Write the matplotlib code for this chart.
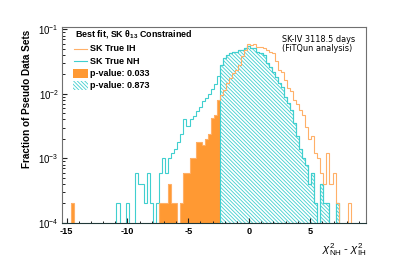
import numpy as np
import matplotlib
matplotlib.use("Agg")
import matplotlib.pyplot as plt
from matplotlib.patches import Rectangle
from matplotlib.lines import Line2D
from matplotlib.ticker import MultipleLocator, LogLocator, NullFormatter

plt.rcParams['font.family'] = ['Liberation Sans', 'DejaVu Sans']
plt.rcParams['mathtext.fontset'] = 'custom'
plt.rcParams['mathtext.rm'] = 'Liberation Sans'
plt.rcParams['mathtext.it'] = 'Liberation Sans:italic'
plt.rcParams['mathtext.bf'] = 'Liberation Sans:bold'
plt.rcParams['hatch.linewidth'] = 0.6

# ---- data (bin edges: -15.4 .. 9.6, width 0.25, 100 bins) ----
x_min, x_max, n_bins = -15.4, 9.6, 100
data_value = -2.4   # observed chi2_NH - chi2_IH

# Fraction of pseudo data sets, true NH (index = bin number)
nh_sparse = {
    18: 2e-4, 21: 2e-4, 24: 6e-4, 25: 4e-4, 26: 4e-4, 27: 2e-4, 28: 6e-4,
    29: 2e-4, 31: 2e-4, 32: 6e-4, 33: 1e-3, 34: 6e-4, 35: 1e-3, 36: 1.2e-3,
    37: 1.4e-3, 38: 1.8e-3, 39: 2.4e-3, 40: 4e-3, 41: 3.2e-3, 42: 4e-3,
    43: 4.6e-3, 44: 5.4e-3, 45: 6.2e-3, 46: 7.6e-3, 47: 8.6e-3, 48: 1.0e-2,
    49: 1.2e-2, 50: 1.4e-2, 51: 1.9e-2, 52: 2.8e-2, 53: 3.57e-2, 54: 4.0e-2,
    55: 4.27e-2, 56: 4.52e-2, 57: 4.52e-2, 58: 4.81e-2, 59: 4.81e-2,
    60: 5.11e-2, 61: 5.54e-2, 62: 5.11e-2, 63: 5.11e-2, 64: 4.52e-2,
    65: 4.27e-2, 66: 4.02e-2, 67: 3.0e-2, 68: 2.64e-2, 69: 2.2e-2,
    70: 1.85e-2, 71: 1.46e-2, 72: 1.28e-2, 73: 9.0e-3, 74: 7.2e-3,
    75: 5.6e-3, 76: 3.5e-3, 77: 2.2e-3, 78: 1.4e-3, 79: 1.0e-3, 80: 8e-4,
    81: 4e-4, 82: 6e-4, 83: 2e-4, 85: 4e-4, 86: 2e-4, 87: 2e-4, 90: 2e-4,
}
# Fraction of pseudo data sets, true IH
ih_sparse = {
    3: 2e-4, 32: 2e-4, 33: 2e-4, 34: 2e-4, 35: 4e-4, 36: 2e-4, 37: 2e-4,
    39: 2e-4, 40: 6e-4, 41: 6e-4, 42: 1e-3, 43: 1e-3, 44: 1.8e-3, 45: 1.8e-3,
    46: 1.6e-3, 47: 2e-3, 48: 2.4e-3, 49: 4.2e-3, 50: 4.7e-3, 51: 8e-3,
    52: 9.6e-3, 53: 1.15e-2, 54: 1.46e-2, 55: 1.75e-2, 56: 2.1e-2,
    57: 2.35e-2, 58: 2.8e-2, 59: 3.8e-2, 60: 4.8e-2, 61: 5.9e-2, 62: 5.7e-2,
    63: 5.9e-2, 64: 5.4e-2, 65: 5.4e-2, 66: 5.1e-2, 67: 4.8e-2, 68: 4.5e-2,
    69: 4.3e-2, 70: 3.2e-2, 71: 2.35e-2, 72: 2.2e-2, 73: 1.65e-2,
    74: 1.24e-2, 75: 1.1e-2, 76: 8e-3, 77: 7e-3, 78: 5.6e-3, 79: 4.7e-3,
    80: 3.1e-3, 81: 2e-3, 82: 2.2e-3, 83: 1.2e-3, 84: 1e-3, 85: 6e-4,
    86: 4e-4, 87: 1.2e-3, 88: 4e-4, 89: 6e-4, 90: 2e-4, 94: 2e-4,
}
x_ticks = [-15, -10, -5, 0, 5]
legend_title = r"Best fit, SK $\mathbf{\theta_{13}}$ Constrained"
labels = ["SK True IH", "SK True NH", "p-value: 0.033", "p-value: 0.873"]

edges = np.linspace(x_min, x_max, n_bins + 1)
nh = np.zeros(n_bins)
ih = np.zeros(n_bins)
for k, v in nh_sparse.items():
    nh[k] = v
for k, v in ih_sparse.items():
    ih[k] = v

floor = 1e-6
cut = int(round((data_value - x_min) / (edges[1] - edges[0])))

c_ih_line = '#ffb068'
c_ih_fill = '#ff9933'
c_nh = '#40cfcf'
hatch = '\\' * 9

W, H = 407, 263
fig = plt.figure(figsize=(W / 100, H / 100), dpi=100)
L, R, T, B = 61.7, 366.0, 26.7, 222.7
ax = fig.add_axes([L / W, 1 - B / H, (R - L) / W, (B - T) / H])
ax.set_yscale('log')
ax.set_xlim(x_min, x_max)
ax.set_ylim(1e-4, 0.11)

# filled p-value regions
ax.stairs(np.maximum(ih[:cut], floor), edges[:cut + 1], baseline=floor,
          fill=True, color=c_ih_fill, lw=0)
ax.stairs(np.maximum(nh[cut:], floor), edges[cut:], baseline=floor,
          fill=True, facecolor='none', edgecolor=c_nh, hatch=hatch, lw=0.8)
# outlines
ax.stairs(np.maximum(nh, floor), edges, baseline=floor, color=c_nh, lw=0.8)
ax.stairs(np.maximum(ih, floor), edges, baseline=floor, color=c_ih_line, lw=0.8)

# axes styling
for s in ax.spines.values():
    s.set_color('#707070')
    s.set_linewidth(0.8)
ax.spines['bottom'].set_color('#203838')
ax.xaxis.set_major_locator(MultipleLocator(5))
ax.xaxis.set_minor_locator(MultipleLocator(1))
ax.set_xticks(x_ticks)
ax.set_xticklabels([str(t) for t in x_ticks], fontsize=6.6, fontweight='bold')
ax.yaxis.set_major_locator(LogLocator(base=10, numticks=10))
ax.yaxis.set_minor_locator(LogLocator(base=10, subs=np.arange(2, 10), numticks=10))
ax.yaxis.set_minor_formatter(NullFormatter())
ax.tick_params(axis='both', which='both', direction='in', color='#202020')
ax.tick_params(axis='x', which='major', length=3.4, width=0.8, pad=3)
ax.tick_params(axis='x', which='minor', length=1.8, width=0.7)
ax.tick_params(axis='y', which='major', length=3.8, width=0.8, pad=2, labelsize=7)
ax.tick_params(axis='y', which='minor', length=2.0, width=0.7)

fig.text(27 / W, 1 - 99 / H, "Fraction of Pseudo Data Sets", rotation=90,
         ha='center', va='center', fontsize=7.2, fontweight='bold')
fig.text(366 / W, 1 - 250 / H, r"$\chi^2_{\mathrm{NH}}$ - $\chi^2_{\mathrm{IH}}$",
         ha='right', va='center', fontsize=8.2)
fig.text(282 / W, 1 - 40 / H, "SK-IV 3118.5 days", family='DejaVu Sans',
         ha='left', va='center', fontsize=5.9)
fig.text(282 / W, 1 - 48.5 / H, "(FiTQun analysis)", family='DejaVu Sans',
         ha='left', va='center', fontsize=5.9)

# legend (drawn manually in figure pixel coordinates)
def fx(p):
    return p / W

def fy(p):
    return 1 - p / H

fig.text(fx(75), fy(34), legend_title, ha='left', va='center',
         fontsize=6.4, fontweight='bold')
rows = [48.5, 61, 73, 85.5]
fig.add_artist(Line2D([fx(74), fx(87)], [fy(rows[0])] * 2, color=c_ih_line, lw=0.8))
fig.add_artist(Line2D([fx(74), fx(87)], [fy(rows[1])] * 2, color=c_nh, lw=0.8))
fig.add_artist(Rectangle((fx(73), fy(rows[2] + 4.5)), fx(15), 9 / H,
                         facecolor=c_ih_fill, edgecolor='none'))
fig.add_artist(Rectangle((fx(73), fy(rows[3] + 4.5)), fx(15), 9 / H,
                         facecolor='none', edgecolor=c_nh, hatch=hatch, lw=0))
for r, lab in zip(rows, labels):
    fig.text(fx(90.5), fy(r), lab, ha='left', va='center', fontsize=6.5,
             fontweight='bold')

fig.savefig('out.png', dpi=100)
